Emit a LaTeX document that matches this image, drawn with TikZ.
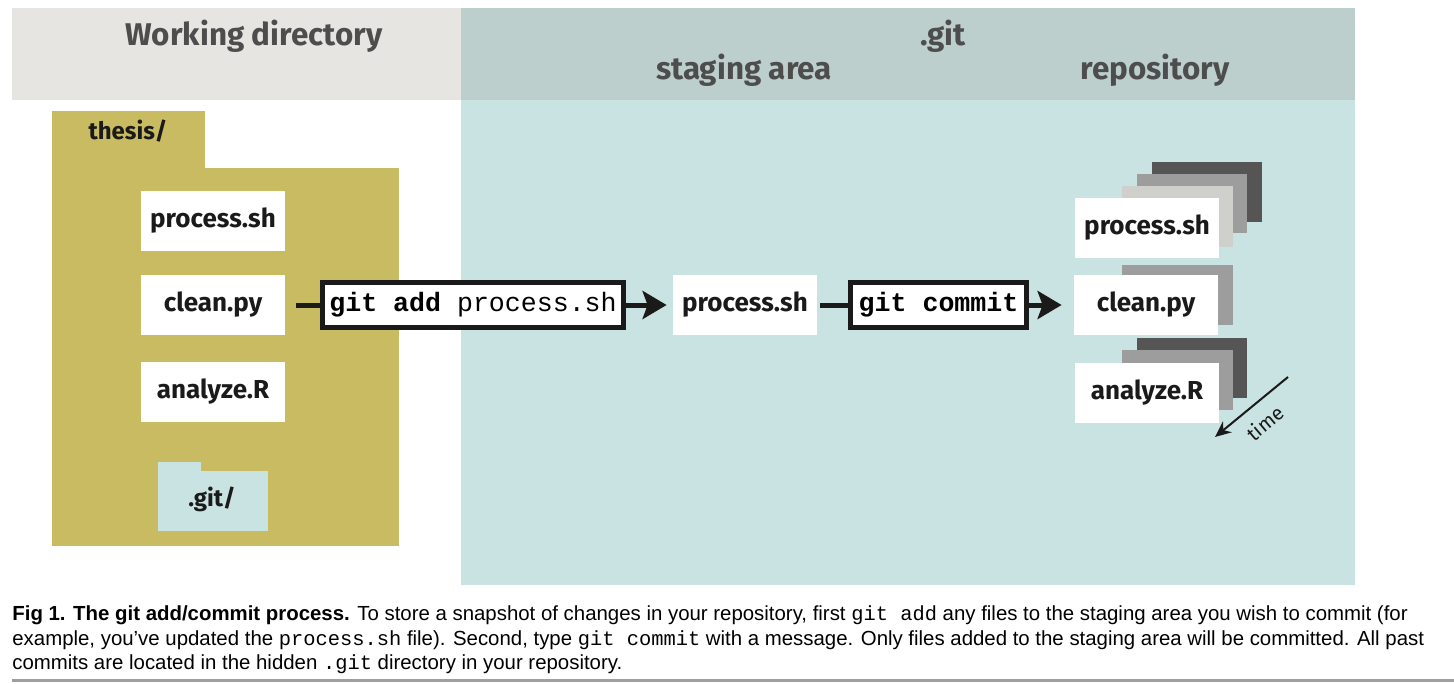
\documentclass[tikz,border=0pt]{standalone}
\usepackage{fontspec}
\setmainfont{Liberation Sans}
\setmonofont{Liberation Mono}
\newfontfamily\figfont{Fira Sans}
\usetikzlibrary{arrows.meta}
\definecolor{wdgray}{HTML}{E6E5E1}
\definecolor{gitgray}{HTML}{BCCFCD}
\definecolor{gitblue}{HTML}{C9E2E2}
\definecolor{olive}{HTML}{C8BB62}
\definecolor{headtext}{HTML}{4D4D4D}
\definecolor{filetext}{HTML}{1A1A1A}
\definecolor{oldlight}{HTML}{CFCFCB}
\definecolor{oldmid}{HTML}{9D9D9D}
\definecolor{olddark}{HTML}{555555}

\begin{document}
\begin{tikzpicture}[x=0.5pt, y=-0.5pt,
	header/.style={anchor=base, text=headtext, font=\figfont\bfseries\fontsize{15.7}{18}\selectfont},
	filebox/.style={fill=white, minimum width=72pt, minimum height=30pt, inner sep=0pt, text=filetext, font=\figfont\bfseries\fontsize{13}{15}\selectfont},
	folderlabel/.style={text=filetext, font=\figfont\bfseries\fontsize{12}{14}\selectfont},
	cmdbox/.style={draw=filetext, line width=2.5pt, fill=white, minimum height=22.5pt, inner sep=0pt, font=\ttfamily\fontsize{13.3}{15}\selectfont},
	wire/.style={draw=filetext, line width=2.5pt},
	caption/.style={anchor=base west, inner sep=0pt, font=\fontsize{10.2}{12}\selectfont}]
	\useasboundingbox (0,0) rectangle (1454,684);
	% Backgrounds:
	\fill[wdgray] (12,8) rectangle (461,100);
	\fill[gitgray] (461,8) rectangle (1355,100);
	\fill[gitblue] (461,100) rectangle (1355,585);
	\node[header] (wdhead) at (254,46){Working directory};
	\node[header] (githead) at (943,46){.git};
	\node[header] (stagehead) at (744,80){staging area};
	\node[header] (repohead) at (1155,80){repository};
	% Working directory folder:
	\fill[olive] (52,111) rectangle (205,170);
	\fill[olive] (52,168) rectangle (399,546);
	\node[folderlabel, anchor=base] (thesis) at (128,140){thesis/};
	\node[filebox] (wdprocess) at (213,221){process.sh};
	\node[filebox] (wdclean) at (213,305){clean.py};
	\node[filebox] (wdanalyze) at (213,392){analyze.R};
	\fill[gitblue] (158,462) rectangle (201,472);
	\fill[gitblue] (158,471) rectangle (268,531);
	\node[folderlabel] (gitdir) at (212,499){.git/};
	% Staging area and repository:
	\node[filebox] (stageprocess) at (745,305){process.sh};
	\fill[olddark] (1152,162) rectangle (1262,222);
	\fill[oldmid] (1137,174) rectangle (1247,233);
	\fill[oldlight] (1122,186) rectangle (1233,247);
	\node[filebox] (repoprocess) at (1147,228){process.sh};
	\fill[oldmid] (1122,265) rectangle (1233,325);
	\node[filebox] (repoclean) at (1146,305){clean.py};
	\fill[olddark] (1137,338) rectangle (1247,398);
	\fill[oldmid] (1122,350) rectangle (1233,410);
	\node[filebox] (repoanalyze) at (1147,393){analyze.R};
	% Commands and arrows:
	\node[cmdbox, minimum width=150.5pt] (addcmd) at (473,305){\textbf{git add} process.sh};
	\node[cmdbox, minimum width=88pt] (commitcmd) at (938.5,305){\textbf{git commit}};
	\draw[wire, shorten <=5.5pt] (wdclean) -- (addcmd);
	\draw[wire, shorten >=3pt, -{Stealth[length=12pt, width=14pt, inset=2.5pt]}] (addcmd) -- (stageprocess);
	\draw[wire, shorten <=1.5pt] (stageprocess) -- (commitcmd);
	\draw[wire, shorten >=6pt, -{Stealth[length=12pt, width=14pt, inset=2.5pt]}] (commitcmd) -- (repoclean);
	\coordinate (timestart) at (1288,377);
	\coordinate (timeend) at (1215,437);
	\draw[draw=filetext, line width=1pt, -{Stealth[length=8pt, width=7pt]}] (timestart) -- (timeend);
	\node[rotate=40, inner sep=0pt, text=filetext, font=\figfont\fontsize{10}{12}\selectfont] (timelabel) at (1265,423){time};
	% Caption:
	\node[caption] (capa) at (12,620){\textbf{Fig 1. The git add/commit process.} To store a snapshot of changes in your repository, first \texttt{git add} any files to the staging area you wish to commit (for};
	\node[caption] (capb) at (12,645){example, you’ve updated the \texttt{process.sh} file). Second, type \texttt{git commit} with a message. Only files added to the staging area will be committed. All past};
	\node[caption] (capc) at (12,669){commits are located in the hidden \texttt{.git} directory in your repository.};
	\draw[gray!75, line width=1.5pt] (12,680) -- (1454,680);
\end{tikzpicture}
\end{document}
